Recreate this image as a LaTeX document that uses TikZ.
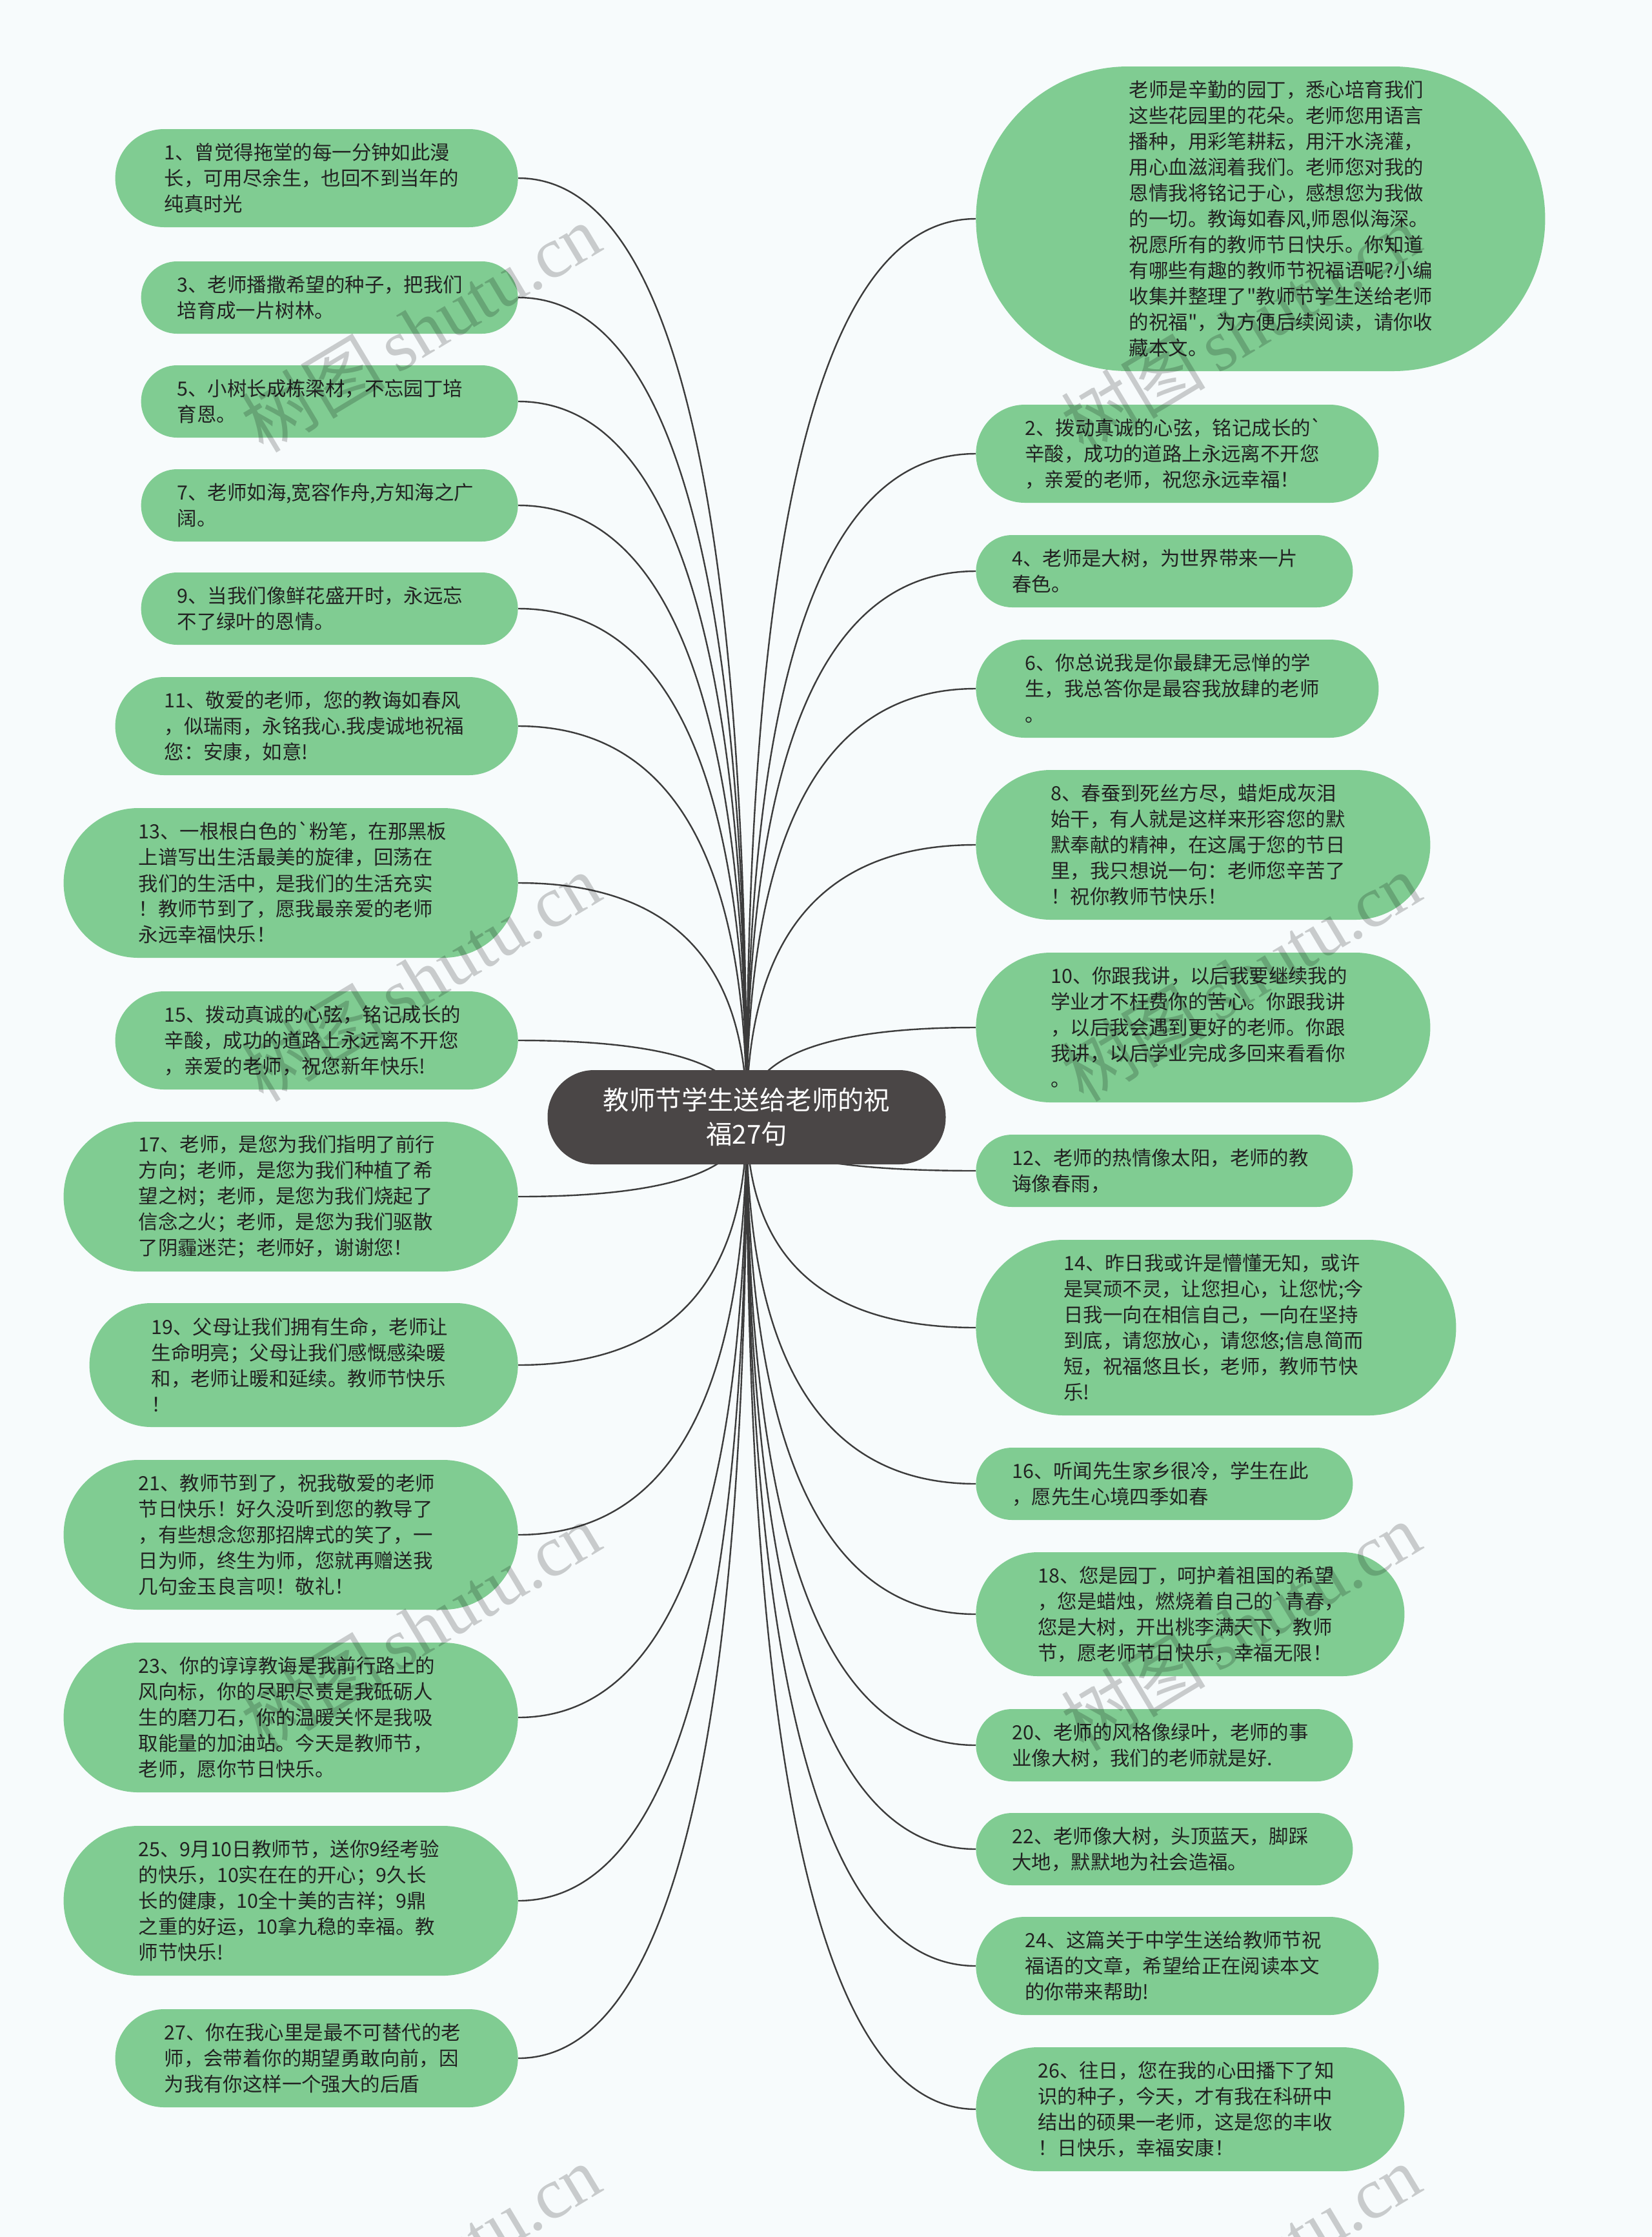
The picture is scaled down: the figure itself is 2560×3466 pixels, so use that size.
\documentclass[tikz,border=0pt]{standalone}
\usepackage{fontspec}
\newfontfamily\cjk{Noto Sans CJK SC}
\newfontfamily\wmserif{Liberation Serif}
\usetikzlibrary{calc,backgrounds}
\definecolor{bgc}{RGB}{247,251,252}
\definecolor{leafc}{RGB}{128,204,146}
\definecolor{hubc}{RGB}{74,70,70}
\definecolor{txtc}{RGB}{34,34,34}
\definecolor{linec}{RGB}{60,60,60}
\tikzset{
  leaf/.style={rectangle, fill=leafc, text=txtc, font=\cjk\fontsize{15.2}{20}\selectfont,
    align=left, text width=236pt, inner ysep=0pt},
  lines2/.style={minimum height=56pt, inner xsep=28pt, rounded corners=27.9pt},
  lines3/.style={minimum height=76pt, inner xsep=38pt, rounded corners=37.9pt},
  lines4/.style={minimum height=96pt, inner xsep=48pt, rounded corners=47.9pt},
  lines5/.style={minimum height=116pt, inner xsep=58pt, rounded corners=57.9pt},
  lines6/.style={minimum height=136pt, inner xsep=68pt, rounded corners=67.9pt},
  hub/.style={rectangle, fill=hubc, text=white, font=\cjk\fontsize{20.2}{26.5}\selectfont,
    align=center, minimum width=308.5pt, minimum height=73pt, rounded corners=36pt, inner sep=0pt},
  conn/.style={draw=linec, line width=1.2pt},
  wm/.style={text=black, text opacity=0.19, font=\fontsize{56}{56}\selectfont, inner sep=0pt, rotate=31}
}
\newcommand\mmlink[2]{\draw[conn] (ctr.center) .. controls ($(ctr.center)!0.667!(ctr.center |- #1.#2)$) and ($(#1.#2)!0.667!(ctr.center |- #1.#2)$) .. (#1.#2);}
\begin{document}
\begin{tikzpicture}[x=0.5pt,y=-0.5pt]
\useasboundingbox (0,0) rectangle (2560,3466);

% central node
\node[hub] (ctr) at (1157,1731) {教师节学生送给老师的祝\\福27句};

% left nodes
\node[leaf,lines3,anchor=east] (n1) at (803,276) {1、曾觉得拖堂的每一分钟如此漫\\长，可用尽余生，也回不到当年的\\纯真时光};
\node[leaf,lines2,anchor=east] (n3) at (803,461) {3、老师播撒希望的种子，把我们\\培育成一片树林。};
\node[leaf,lines2,anchor=east] (n5) at (803,622) {5、小树长成栋梁材，不忘园丁培\\育恩。};
\node[leaf,lines2,anchor=east] (n7) at (803,783) {7、老师如海,宽容作舟,方知海之广\\阔。};
\node[leaf,lines2,anchor=east] (n9) at (803,943) {9、当我们像鲜花盛开时，永远忘\\不了绿叶的恩情。};
\node[leaf,lines3,anchor=east] (n11) at (803,1125) {11、敬爱的老师，您的教诲如春风\\，似瑞雨，永铭我心.我虔诚地祝福\\您：安康，如意!};
\node[leaf,lines5,anchor=east] (n13) at (803,1368) {13、一根根白色的`粉笔，在那黑板\\上谱写出生活最美的旋律，回荡在\\我们的生活中，是我们的生活充实\\！教师节到了，愿我最亲爱的老师\\永远幸福快乐！};
\node[leaf,lines3,anchor=east] (n15) at (803,1612) {15、拨动真诚的心弦，铭记成长的\\辛酸，成功的道路上永远离不开您\\，亲爱的老师，祝您新年快乐!};
\node[leaf,lines5,anchor=east] (n17) at (803,1854) {17、老师，是您为我们指明了前行\\方向；老师，是您为我们种植了希\\望之树；老师，是您为我们烧起了\\信念之火；老师，是您为我们驱散\\了阴霾迷茫；老师好，谢谢您！};
\node[leaf,lines4,anchor=east] (n19) at (803,2115) {19、父母让我们拥有生命，老师让\\生命明亮；父母让我们感慨感染暖\\和，老师让暖和延续。教师节快乐\\！};
\node[leaf,lines5,anchor=east] (n21) at (803,2378) {21、教师节到了，祝我敬爱的老师\\节日快乐！好久没听到您的教导了\\，有些想念您那招牌式的笑了，一\\日为师，终生为师，您就再赠送我\\几句金玉良言呗！敬礼！};
\node[leaf,lines5,anchor=east] (n23) at (803,2661) {23、你的谆谆教诲是我前行路上的\\风向标，你的尽职尽责是我砥砺人\\生的磨刀石，你的温暖关怀是我吸\\取能量的加油站。今天是教师节，\\老师，愿你节日快乐。};
\node[leaf,lines5,anchor=east] (n25) at (803,2945) {25、9月10日教师节，送你9经考验\\的快乐，10实在在的开心；9久长\\长的健康，10全十美的吉祥；9鼎\\之重的好运，10拿九稳的幸福。教\\师节快乐!};
\node[leaf,lines3,anchor=east] (n27) at (803,3189) {27、你在我心里是最不可替代的老\\师，会带着你的期望勇敢向前，因\\为我有你这样一个强大的后盾};

% right nodes
\node[rectangle, fill=leafc, text=txtc, font=\cjk\fontsize{15.2}{20}\selectfont,
  minimum width=441pt, minimum height=236pt, rounded corners=117.9pt, inner sep=0pt, anchor=west]
  (intro) at (1512,339) {\hspace*{32.5pt}\parbox[c]{236pt}{\raggedright 老师是辛勤的园丁，悉心培育我们\\这些花园里的花朵。老师您用语言\\播种，用彩笔耕耘，用汗水浇灌，\\用心血滋润着我们。老师您对我的\\恩情我将铭记于心，感想您为我做\\的一切。教诲如春风,师恩似海深。\\祝愿所有的教师节日快乐。你知道\\有哪些有趣的教师节祝福语呢?小编\\收集并整理了"教师节学生送给老师\\的祝福"，为方便后续阅读，请你收\\藏本文。}};
\node[leaf,lines3,anchor=west] (n2) at (1512,703) {2、拨动真诚的心弦，铭记成长的`\\辛酸，成功的道路上永远离不开您\\，亲爱的老师，祝您永远幸福！};
\node[leaf,lines2,anchor=west] (n4) at (1512,885) {4、老师是大树，为世界带来一片\\春色。};
\node[leaf,lines3,anchor=west] (n6) at (1512,1067) {6、你总说我是你最肆无忌惮的学\\生，我总答你是最容我放肆的老师\\。};
\node[leaf,lines5,anchor=west] (n8) at (1512,1309) {8、春蚕到死丝方尽，蜡炬成灰泪\\始干，有人就是这样来形容您的默\\默奉献的精神，在这属于您的节日\\里，我只想说一句：老师您辛苦了\\！祝你教师节快乐！};
\node[leaf,lines5,anchor=west] (n10) at (1512,1592) {10、你跟我讲，以后我要继续我的\\学业才不枉费你的苦心。你跟我讲\\，以后我会遇到更好的老师。你跟\\我讲，以后学业完成多回来看看你\\。};
\node[leaf,lines2,anchor=west] (n12) at (1512,1814) {12、老师的热情像太阳，老师的教\\诲像春雨，};
\node[leaf,lines6,anchor=west] (n14) at (1512,2057) {14、昨日我或许是懵懂无知，或许\\是冥顽不灵，让您担心，让您忧;今\\日我一向在相信自己，一向在坚持\\到底，请您放心，请您悠;信息简而\\短，祝福悠且长，老师，教师节快\\乐!};
\node[leaf,lines2,anchor=west] (n16) at (1512,2299) {16、听闻先生家乡很冷，学生在此\\，愿先生心境四季如春};
\node[leaf,lines4,anchor=west] (n18) at (1512,2501) {18、您是园丁，呵护着祖国的希望\\，您是蜡烛，燃烧着自己的`青春，\\您是大树，开出桃李满天下，教师\\节，愿老师节日快乐，幸福无限！};
\node[leaf,lines2,anchor=west] (n20) at (1512,2704) {20、老师的风格像绿叶，老师的事\\业像大树，我们的老师就是好.};
\node[leaf,lines2,anchor=west] (n22) at (1512,2865) {22、老师像大树，头顶蓝天，脚踩\\大地，默默地为社会造福。};
\node[leaf,lines3,anchor=west] (n24) at (1512,3046) {24、这篇关于中学生送给教师节祝\\福语的文章，希望给正在阅读本文\\的你带来帮助!};
\node[leaf,lines4,anchor=west] (n26) at (1512,3268) {26、往日，您在我的心田播下了知\\识的种子，今天，才有我在科研中\\结出的硕果一老师，这是您的丰收\\！日快乐，幸福安康！};

\begin{scope}[on background layer]
  \fill[bgc] (0,0) rectangle (2560,3466);
  \foreach \n in {n1,n3,n5,n7,n9,n11,n13,n15,n17,n19,n21,n23,n25,n27}{\mmlink{\n}{east}}
  \foreach \n in {intro,n2,n4,n6,n8,n10,n12,n14,n16,n18,n20,n22,n24,n26}{\mmlink{\n}{west}}
\end{scope}

% watermarks
\begin{scope}
  \clip (0,0) rectangle (2560,3466);
  \foreach \yy/\k in {508/a,1514/b,2520/c,3515/d}{
    \node[wm] (wml\k) at (652,\yy) {{\cjk 树图}\hspace{9pt}{\wmserif shutu.cn}};
    \node[wm] (wmr\k) at (1923,\yy) {{\cjk 树图}\hspace{9pt}{\wmserif shutu.cn}};
  }
\end{scope}
\end{tikzpicture}
\end{document}
